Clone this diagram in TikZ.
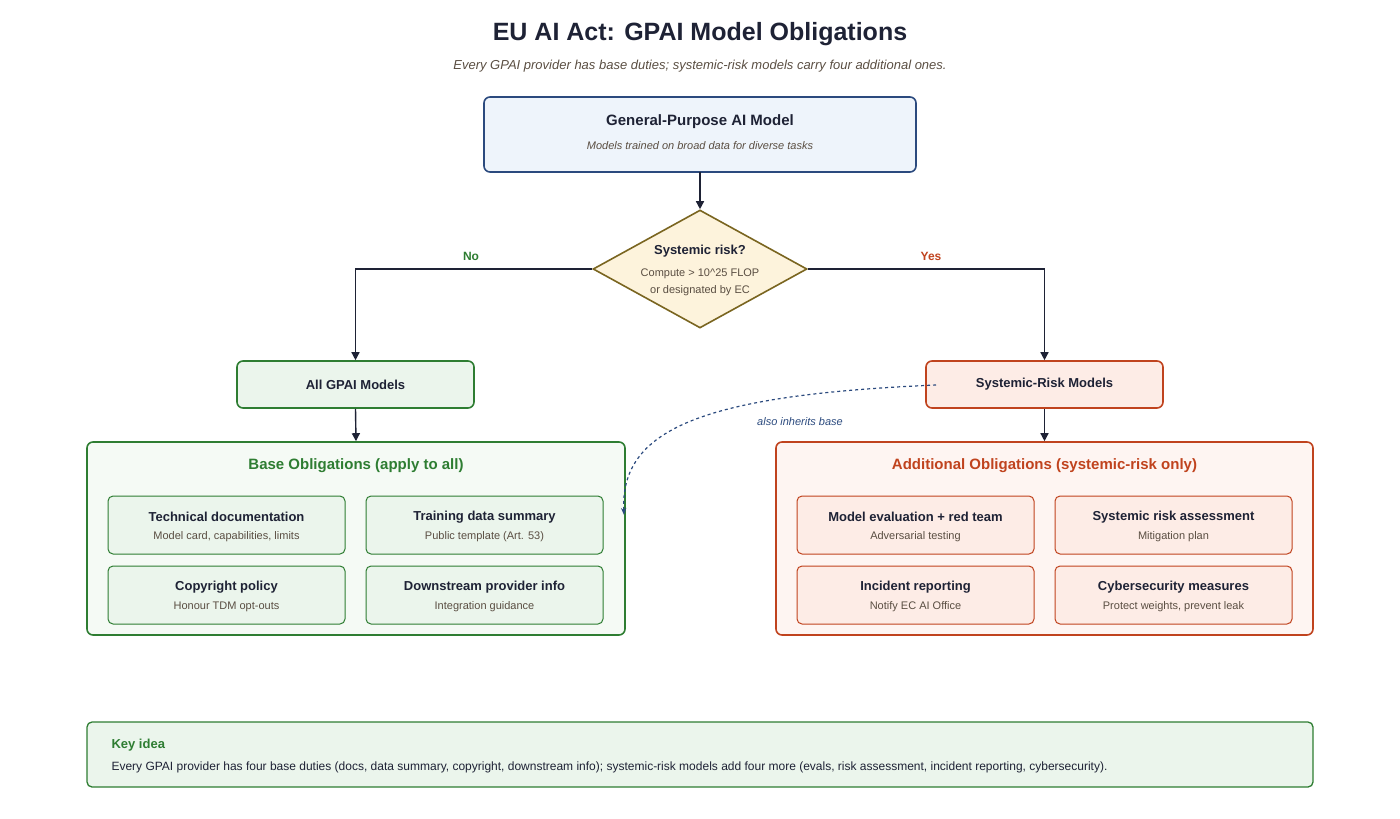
\documentclass[tikz,border=0pt]{standalone}
\usepackage{fontspec}
\setmainfont{Liberation Sans}
\usetikzlibrary{shapes.geometric,arrows.meta}
\definecolor{ink}{HTML}{1E2235}
\definecolor{sub}{HTML}{5A4E42}
\definecolor{blu}{HTML}{2B4A7E}
\definecolor{blufill}{HTML}{EEF4FB}
\definecolor{gold}{HTML}{7A6520}
\definecolor{goldfill}{HTML}{FDF3DC}
\definecolor{grn}{HTML}{2E7D32}
\definecolor{grnfill}{HTML}{EBF5EC}
\definecolor{grnbg}{HTML}{F5FAF5}
\definecolor{red}{HTML}{C0431E}
\definecolor{redfill}{HTML}{FDECE6}
\definecolor{redbg}{HTML}{FEF5F2}
\begin{document}
\begin{tikzpicture}[x=1pt,y=-1pt,
  box/.style={draw,rounded corners=6pt,line width=1.6pt,inner sep=0},
  sbox/.style={draw,rounded corners=5pt,line width=1pt,inner sep=0},
  arr/.style={-{Triangle[length=8pt,width=8pt]},line width=1.4pt,draw=ink},
  t/.style={font=\bfseries\fontsize{13}{15}\selectfont,text=ink},
  s/.style={font=\fontsize{11}{13}\selectfont,text=sub}]
\useasboundingbox (0,0) rectangle (1400,819);
\node[font=\bfseries\fontsize{25}{29}\selectfont,text=ink] (title) at (700,34) {EU AI Act: GPAI Model Obligations};
\node[font=\itshape\fontsize{13}{15}\selectfont,text=sub] (subt) at (700,66) {Every GPAI provider has base duties; systemic-risk models carry four additional ones.};
% top
\draw[box,draw=blu,fill=blufill] (484,97) rectangle (916,172);
\node[font=\bfseries\fontsize{15}{17}\selectfont,text=ink] (gp) at (700,122) {General-Purpose AI Model};
\node[font=\itshape\fontsize{11}{13}\selectfont,text=sub] (gps) at (700,146) {Models trained on broad data for diverse tasks};
\coordinate (gpb) at (700,172);
% diamond
\node[diamond,draw=gold,fill=goldfill,line width=1.6pt,minimum width=214pt,minimum height=118pt,inner sep=0,aspect=1.8] (dia) at (700,269) {};
\node[t] (dt) at (700,251) {Systemic risk?};
\node[s,align=center,font=\fontsize{11}{17}\selectfont] (ds) at (700,282) {Compute > 10\^{}25 FLOP\\or designated by EC};
\draw[arr] (gpb) -- (dia.north);
% mid boxes
\node[box,draw=grn,fill=grnfill,minimum width=237pt,minimum height=47pt,t] (all) at (355.5,384.5) {All GPAI Models};
\node[box,draw=red,fill=redfill,minimum width=237pt,minimum height=47pt,t] (sys) at (1044.5,384.5) {Systemic-Risk Models};
\draw[arr] (dia.west) -| (all.north);
\draw[arr] (dia.east) -| (sys.north);
\node[font=\bfseries\fontsize{12}{14}\selectfont,text=grn] (no) at (471,256) {No};
\node[font=\bfseries\fontsize{12}{14}\selectfont,text=red] (yes) at (931,256) {Yes};
% containers
\node[box,draw=grn,fill=grnbg,minimum width=538pt,minimum height=193pt] (base) at (356,538.5) {};
\node[box,draw=red,fill=redbg,minimum width=537pt,minimum height=193pt] (add) at (1044.5,538.5) {};
\draw[arr] (all.south) -- (base.north);
\draw[arr] (sys.south) -- (add.north);
\node[font=\bfseries\fontsize{15}{17}\selectfont,text=grn] (bt) at (356,466) {Base Obligations (apply to all)};
\node[font=\bfseries\fontsize{15}{17}\selectfont,text=red] (at) at (1044.5,466) {Additional Obligations (systemic-risk only)};
\foreach \n/\x/\y/\a/\b/\c in {
 b1/226.5/525/Technical documentation/{Model card, capabilities, limits}/grn,
 b2/484.5/525/Training data summary/{Public template (Art. 53)}/grn,
 b3/226.5/595/Copyright policy/{Honour TDM opt-outs}/grn,
 b4/484.5/595/Downstream provider info/{Integration guidance}/grn,
 a1/915.5/525/Model evaluation + red team/{Adversarial testing}/red,
 a2/1173.5/525/Systemic risk assessment/{Mitigation plan}/red,
 a3/915.5/595/Incident reporting/{Notify EC AI Office}/red,
 a4/1173.5/595/Cybersecurity measures/{Protect weights, prevent leak}/red}{
 \node[sbox,draw=\c,fill=\c fill,minimum width=237pt,minimum height=58pt] (\n) at (\x,\y) {};
 \node[t] (\n t) at (\x,\y-8) {\a};
 \node[s] (\n s) at (\x,\y+12) {\b};
}
% dashed
\coordinate (ds1) at (936,385);
\coordinate (ds2) at (624,515);
\draw[dashed,line width=1.2pt,draw=blu,-{Stealth[length=7pt]}] (ds1) .. controls (700,395) and (620,430) .. (ds2);
\node[font=\itshape\fontsize{11}{13}\selectfont,text=blu] (inh) at (800,422) {also inherits base};
% key idea
\draw[sbox,line width=1.3pt,draw=grn,fill=grnfill] (87,722) rectangle (1313,787);
\node[font=\bfseries\fontsize{13}{15}\selectfont,text=grn,anchor=west] (ki) at (108,745) {Key idea};
\node[font=\fontsize{12}{14}\selectfont,text=ink,anchor=west] (kb) at (108,767) {Every GPAI provider has four base duties (docs, data summary, copyright, downstream info); systemic-risk models add four more (evals, risk assessment, incident reporting, cybersecurity).};
\end{tikzpicture}
\end{document}
